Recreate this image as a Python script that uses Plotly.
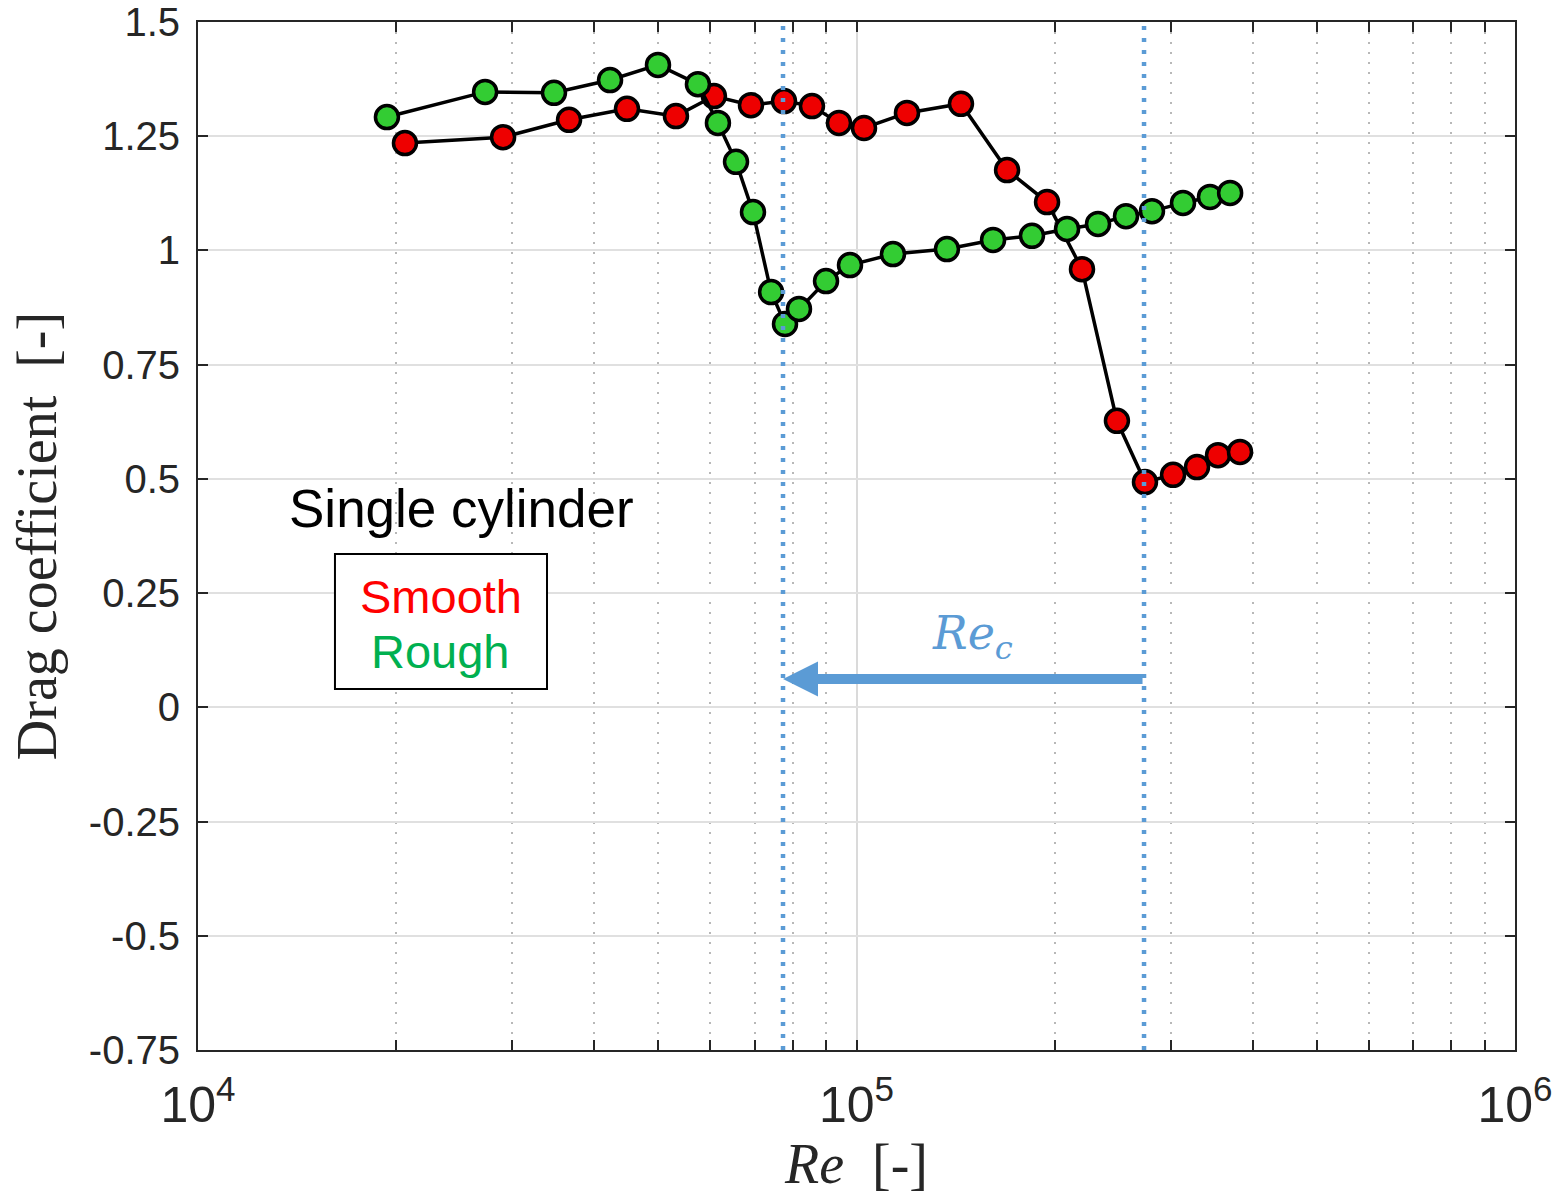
import math
import plotly.graph_objects as go

# ---- data ----
re_smooth = [20620, 29060, 36600, 44820, 53190, 60740, 69150, 77610, 85580, 94060, 102660,
             119300, 144100, 169300, 194700, 220000, 248600, 274200, 302500, 328900, 354000, 382300]
cd_smooth = [1.235, 1.248, 1.286, 1.310, 1.294, 1.338, 1.318, 1.327, 1.316, 1.279, 1.268,
             1.301, 1.321, 1.176, 1.106, 0.959, 0.627, 0.493, 0.509, 0.526, 0.552, 0.559]

re_rough = [19360, 27290, 34720, 42240, 49950, 57440, 61600, 65620, 69630, 74190, 77880, 81780,
            89890, 97750, 113600, 137200, 161200, 184700, 208800, 232700, 256600, 281000,
            313200, 344200, 369300]
cd_rough = [1.292, 1.347, 1.345, 1.373, 1.406, 1.364, 1.279, 1.194, 1.084, 0.909, 0.839, 0.872,
            0.933, 0.968, 0.992, 1.003, 1.023, 1.032, 1.047, 1.058, 1.075, 1.086,
            1.104, 1.117, 1.126]

re_crit_rough = 77340
re_crit_smooth = 273300
arrow_cd = 0.062

y_ticks = [-0.75, -0.5, -0.25, 0, 0.25, 0.5, 0.75, 1, 1.25, 1.5]
y_ticklabels = ["-0.75", "-0.5", "-0.25", "0", "0.25", "0.5", "0.75", "1", "1.25", "1.5"]
x_range_exp = [4, 6]
y_range = [-0.75, 1.5]

BLUE = "#5B9BD5"
AXC = "#262626"

fig = go.Figure()

for xs, ys, col, name in [(re_smooth, cd_smooth, "#EE0000", "Smooth"),
                          (re_rough, cd_rough, "#33CC33", "Rough")]:
    fig.add_trace(go.Scatter(
        x=xs, y=ys, mode="lines+markers", name=name,
        line=dict(color="black", width=3.5),
        marker=dict(size=23, color=col, line=dict(color="black", width=3.5)),
        showlegend=False, cliponaxis=False))

for rc in [re_crit_rough, re_crit_smooth]:
    fig.add_trace(go.Scatter(
        x=[rc, rc], y=y_range, mode="lines",
        line=dict(color=BLUE, width=4.5, dash="4px,8px"),
        showlegend=False, hoverinfo="skip"))

tick_font = dict(family="Liberation Sans, Arial", size=40, color=AXC)

fig.update_xaxes(
    type="log", range=x_range_exp, dtick=1, exponentformat="power",
    showline=True, linecolor=AXC, linewidth=2, mirror="allticks",
    ticks="inside", ticklen=10, tickwidth=1.5, tickcolor=AXC,
    showgrid=True, gridcolor="#DADADA", gridwidth=1.5,
    tickfont=tick_font, ticklabelstandoff=12, automargin=False,
    ticklabeloverflow="allow",
    minor=dict(ticks="inside", ticklen=10, tickwidth=1.5, tickcolor=AXC,
               showgrid=True, gridcolor="#B8B8B8", gridwidth=2, griddash="2px,8px"),
    title=dict(text="<i>Re</i>&nbsp;&nbsp;[-]",
               font=dict(family="Liberation Serif, Times New Roman", size=56, color=AXC),
               standoff=10),
    zeroline=False,
)
fig.update_yaxes(
    range=y_range, tickvals=y_ticks, ticktext=y_ticklabels,
    showline=True, linecolor=AXC, linewidth=2, mirror="allticks",
    ticks="inside", ticklen=10, tickwidth=1.5, tickcolor=AXC,
    showgrid=True, gridcolor="#E0E0E0", gridwidth=1.5,
    tickfont=tick_font, ticklabelstandoff=8, automargin=False,
    ticklabeloverflow="allow",
    title=dict(text="Drag coefficient&nbsp;&nbsp;[-]",
               font=dict(family="Liberation Serif, Times New Roman", size=56, color=AXC),
               standoff=14),
    zeroline=False,
)

# arrow from smooth critical Re to rough critical Re
fig.add_annotation(
    x=math.log10(re_crit_rough), y=arrow_cd, ax=math.log10(re_crit_smooth), ay=arrow_cd,
    xref="x", yref="y", axref="x", ayref="y", text="", showarrow=True,
    arrowhead=2, arrowsize=0.7, arrowwidth=10, arrowcolor=BLUE, standoff=0, startstandoff=0)

fig.add_annotation(
    x=0.5877, y=0.4018, xref="paper", yref="paper", showarrow=False,
    xanchor="center", yanchor="middle",
    text="<i>Re</i><sub><i>c</i></sub>",
    font=dict(family="DejaVu Serif, Liberation Serif", size=46, color=BLUE))

fig.add_annotation(
    x=0.1997, y=0.5272, xref="paper", yref="paper", showarrow=False,
    xanchor="center", yanchor="middle",
    text="Single cylinder",
    font=dict(family="Liberation Sans, Arial", size=53, color="black"))

fig.add_shape(type="rect", xref="paper", yref="paper",
              x0=0.104, x1=0.265, y0=0.3512, y1=0.4825,
              line=dict(color="black", width=2), fillcolor="white", layer="above")
fig.add_annotation(
    x=0.1845, y=0.4416, xref="paper", yref="paper", showarrow=False,
    xanchor="center", yanchor="middle",
    text="Smooth", font=dict(family="Liberation Sans, Arial", size=47, color="#FF0000"))
fig.add_annotation(
    x=0.1845, y=0.3872, xref="paper", yref="paper", showarrow=False,
    xanchor="center", yanchor="middle",
    text="Rough", font=dict(family="Liberation Sans, Arial", size=47, color="#00B050"))

fig.update_layout(
    width=1552, height=1196,
    margin=dict(l=198, r=37, t=22, b=146),
    paper_bgcolor="white", plot_bgcolor="white",
)

fig.write_html("out.html")
